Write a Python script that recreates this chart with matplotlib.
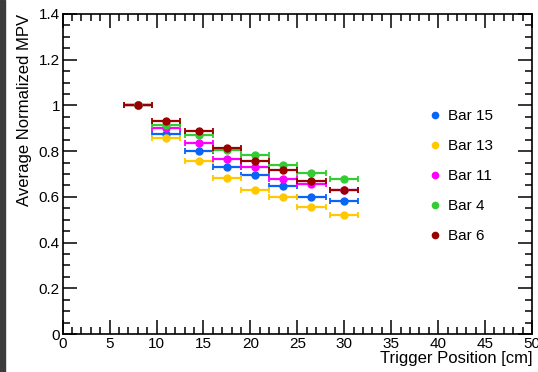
import matplotlib
matplotlib.use("Agg")
import matplotlib.pyplot as plt
from matplotlib.ticker import MultipleLocator, FormatStrFormatter
from matplotlib.patches import Rectangle

plt.rcParams['font.family'] = ['Liberation Sans', 'DejaVu Sans']

# trigger positions [cm] and half-width of the trigger
positions = [8, 11, 14.5, 17.5, 20.5, 23.5, 26.5, 30]
pos_err = 1.5

bar15 = [1.0, 0.874, 0.799, 0.731, 0.696, 0.647, 0.601, 0.580]
bar13 = [1.0, 0.859, 0.758, 0.682, 0.631, 0.601, 0.554, 0.519]
bar11 = [1.0, 0.900, 0.834, 0.766, 0.729, 0.679, 0.655, 0.629]
bar4 = [1.0, 0.914, 0.871, 0.805, 0.782, 0.741, 0.703, 0.677]
bar6 = [1.0, 0.932, 0.887, 0.815, 0.758, 0.716, 0.669, 0.629]

series = [
    ("Bar 15", bar15, "#0a64f5"),
    ("Bar 13", bar13, "#ffc800"),
    ("Bar 11", bar11, "#ff00ff"),
    ("Bar 4", bar4, "#33cc33"),
    ("Bar 6", bar6, "#990000"),
]

fig = plt.figure(figsize=(5.38, 3.72), dpi=100)
ax = fig.add_axes([62.7 / 538, 38 / 372, (532 - 62.7) / 538, (334 - 14) / 372])

handles = []
for name, vals, col in series:
    ax.errorbar(positions, vals, xerr=pos_err, fmt='o', color=col, ms=5,
                elinewidth=1.6, capsize=2, capthick=1.3)
    h, = ax.plot([], [], 'o', color=col, ms=4.5, label=name)
    handles.append(h)

ax.set_xlim(0, 50)
ax.set_ylim(0, 1.4)
ax.xaxis.set_major_locator(MultipleLocator(5))
ax.xaxis.set_minor_locator(MultipleLocator(1))
ax.yaxis.set_major_locator(MultipleLocator(0.2))
ax.yaxis.set_minor_locator(MultipleLocator(0.05))
ax.yaxis.set_major_formatter(FormatStrFormatter('%g'))
ax.tick_params(which='both', direction='in', top=True, right=True,
               labelsize=11, width=1.1, pad=2)
ax.tick_params(which='major', length=10)
ax.tick_params(which='minor', length=5)
for s in ax.spines.values():
    s.set_linewidth(1.2)

ax.set_xlabel("Trigger Position [cm]", loc='right', fontsize=12, labelpad=0)
ax.set_ylabel("Average Normalized MPV", loc='top', fontsize=12, labelpad=5)

ax.legend(handles=handles, loc='upper left', bbox_to_anchor=(0.755, 0.745),
          frameon=False, fontsize=11, labelspacing=1.04, handlelength=0.6,
          handletextpad=0.55, markerscale=1.0)

# dark strip on the left edge of the screenshot
fig.patches.append(Rectangle((0, 0), 4.5 / 538, 1, transform=fig.transFigure,
                             color='#3c3c3c', zorder=0))

fig.savefig("out.png", dpi=100)
